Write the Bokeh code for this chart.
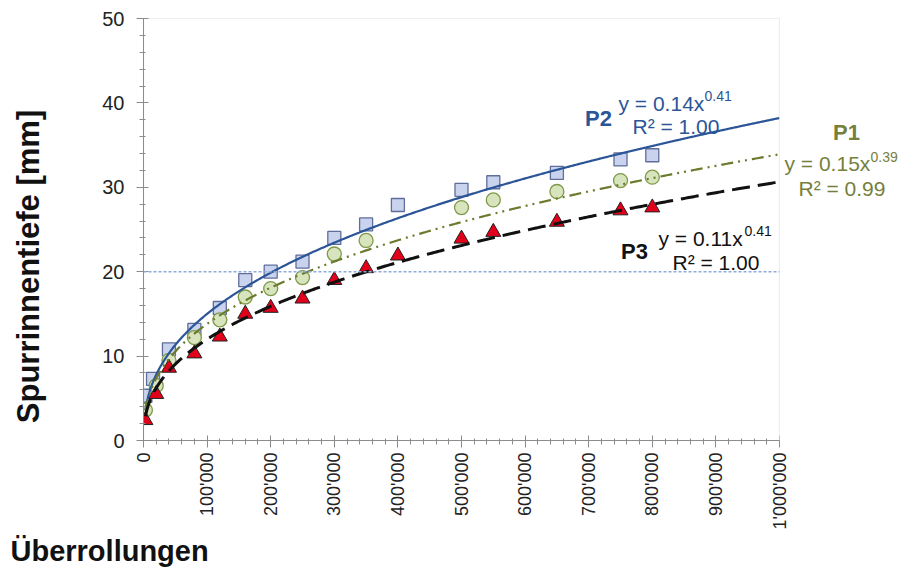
import math
import numpy as np
from bokeh.plotting import figure
from bokeh.models import Range1d, SingleIntervalTicker, Span, Label, BoxAnnotation, Title
from bokeh.embed import file_html
from bokeh.resources import INLINE

# ---------------- data ----------------
p2_x = [3000, 15000, 40000, 80000, 120000, 160000, 200000, 250000, 300000, 350000,
        400000, 500000, 550000, 650000, 750000, 800000]
p2_y = [5.3, 7.3, 10.8, 13.1, 15.7, 19.0, 20.0, 21.2, 24.0, 25.6,
        27.9, 29.7, 30.6, 31.7, 33.3, 33.8]

p1_x = [3000, 20000, 40000, 80000, 120000, 160000, 200000, 250000, 300000, 350000,
        500000, 550000, 650000, 750000, 800000]
p1_y = [3.6, 6.5, 9.5, 12.2, 14.3, 17.0, 18.0, 19.3, 22.1, 23.7,
        27.6, 28.5, 29.5, 30.8, 31.2]

p3_x = [3000, 20000, 40000, 80000, 120000, 160000, 200000, 250000, 300000, 350000,
        400000, 500000, 550000, 650000, 750000, 800000]
p3_y = [2.4, 5.5, 8.6, 10.3, 12.3, 15.0, 15.7, 16.8, 19.0, 20.4,
        21.9, 23.9, 24.7, 25.9, 27.25, 27.6]

# power trendlines y = a * x^b (as printed on the chart, refined to the drawn curves)
p2_trend = (0.14, 0.406)
p1_trend = (0.155, 0.39)
p3_trend = (0.11, 0.4075)

x_ticks = [0, 100000, 200000, 300000, 400000, 500000, 600000, 700000, 800000, 900000, 1000000]
x_tick_labels = ["0", "100'000", "200'000", "300'000", "400'000", "500'000",
                 "600'000", "700'000", "800'000", "900'000", "1'000'000"]
threshold = 20

# ---------------- figure geometry ----------------
W, H = 907, 567
FL, FR, FT, FB = 143, 779, 18, 440        # visible plot box in canvas pixels
XMAX, YMAX = 1000000, 50
XEXT = (W - FL) / (FR - FL) * XMAX        # frame runs to the right edge

def dx(px):
    return (px - FL) / (FR - FL) * XMAX

def dy(py):
    return (FB - py) / (FB - FT) * YMAX

FONT = "Liberation Sans"
GRAY = "#8c8c8c"

p = figure(width=W, height=H, output_backend="svg", toolbar_location=None,
           x_range=Range1d(0, XEXT), y_range=Range1d(0, YMAX),
           min_border_left=FL, min_border_right=0, min_border_top=FT,
           min_border_bottom=H - FB)
p.background_fill_color = "white"
p.border_fill_color = "white"
p.outline_line_color = None
p.xgrid.visible = False
p.ygrid.visible = False

# plot box
p.add_layout(BoxAnnotation(left=0, right=XMAX, bottom=0, top=YMAX, fill_alpha=0,
                           line_color=GRAY, line_width=1.2))

# axes
p.xaxis.ticker = SingleIntervalTicker(interval=100000, num_minor_ticks=5)
p.xaxis.bounds = (0, XMAX)
p.xaxis.major_label_overrides = {t: l for t, l in zip(x_ticks, x_tick_labels)}
p.xaxis.major_label_orientation = math.pi / 2
p.yaxis.ticker = SingleIntervalTicker(interval=10, num_minor_ticks=5)
for ax in (p.xaxis[0], p.yaxis[0]):
    ax.axis_line_color = GRAY
    ax.major_tick_line_color = GRAY
    ax.minor_tick_line_color = GRAY
    ax.major_tick_in = 5
    ax.major_tick_out = 7
    ax.minor_tick_in = 2
    ax.minor_tick_out = 4
    ax.major_label_text_font = FONT
    ax.major_label_text_color = "#222222"
p.yaxis.major_label_text_font_size = "20px"
p.xaxis.major_label_text_font_size = "18px"
p.yaxis.major_label_standoff = 12
p.xaxis.major_label_standoff = 5

# y-axis title (placed lower than centre, as in the reference)
p.add_layout(Label(x=dx(28), y=dy(266), text="Spurrinnentiefe [mm]", text_font=FONT,
                   text_font_size="31px", text_font_style="bold", text_color="#111111",
                   text_align="center", text_baseline="middle", angle=math.pi / 2), "left")

# x-axis title (left aligned under the axis)
xt = Title(text="Überrollungen", align="left", offset=10 - FL, text_font=FONT,
           text_font_size="29px", text_font_style="bold", text_color="#111111")
if hasattr(xt, "standoff"):
    xt.standoff = 0
p.add_layout(xt, "below")

# threshold line, hidden right of the plot box by a white box
p.add_layout(Span(location=threshold, dimension="width", line_color="#8faadc",
                  line_dash="3 2", line_width=1.5))
p.add_layout(BoxAnnotation(left=XMAX, right=XEXT, bottom=0, top=YMAX,
                           fill_color="white", fill_alpha=1, line_alpha=0))

# markers
p.scatter(p2_x, p2_y, marker="square", size=13, fill_color="#c9d3ee",
          line_color="#5f6e9b", line_width=1.3)
p.scatter(p1_x, p1_y, marker="circle", size=14, fill_color="#d7e4bd",
          line_color="#7e9a48", line_width=1.3)
p.scatter(p3_x, p3_y, marker="triangle", size=15, fill_color="#e3001b",
          line_color="#222222", line_width=1.0)

# trendlines
def trend(xs, coef):
    a, b = coef
    xx = np.linspace(min(xs), XMAX, 400)
    return xx, a * xx ** b

xx, yy = trend(p2_x, p2_trend)
p.line(xx, yy, line_color="#2b5597", line_width=2.2)
xx, yy = trend(p1_x, p1_trend)
p.line(xx, yy, line_color="#6b7b2e", line_width=2.2, line_dash="12 5 2 5 2 5")
xx, yy = trend(p3_x, p3_trend)
p.line(xx, yy, line_color="#111111", line_width=3, line_dash="18 8")

# annotations
def lab(text, px, py, size, color, bold=False, align="left"):
    p.add_layout(Label(x=dx(px), y=dy(py), text=text, text_font=FONT,
                       text_font_size=f"{size}px", text_color=color,
                       text_font_style="bold" if bold else "normal",
                       text_align=align, text_baseline="alphabetic"))

C2, C1, C3 = "#2b5597", "#767f3c", "#111111"
# P2
lab("P2", 598, 118, 22, C2, bold=True, align="center")
lab("y = 0.14x", 618, 103, 21, C2)
lab("0.41", 704, 95, 14, C2)
lab("R² = 1.00", 632, 126, 21, C2)
# P1
lab("P1", 846, 132, 22, C1, bold=True, align="center")
lab("y = 0.15x", 784, 163, 21, C1)
lab("0.39", 870, 156, 14, C1)
lab("R² = 0.99", 798, 188, 21, C1)
# P3
lab("P3", 634, 251, 22, C3, bold=True, align="center")
lab("y = 0.11x", 658, 238, 21, C3)
lab("0.41", 744, 230, 14, C3)
lab("R² = 1.00", 672, 262, 21, C3)

open("out.html", "w").write(file_html(p, INLINE))
